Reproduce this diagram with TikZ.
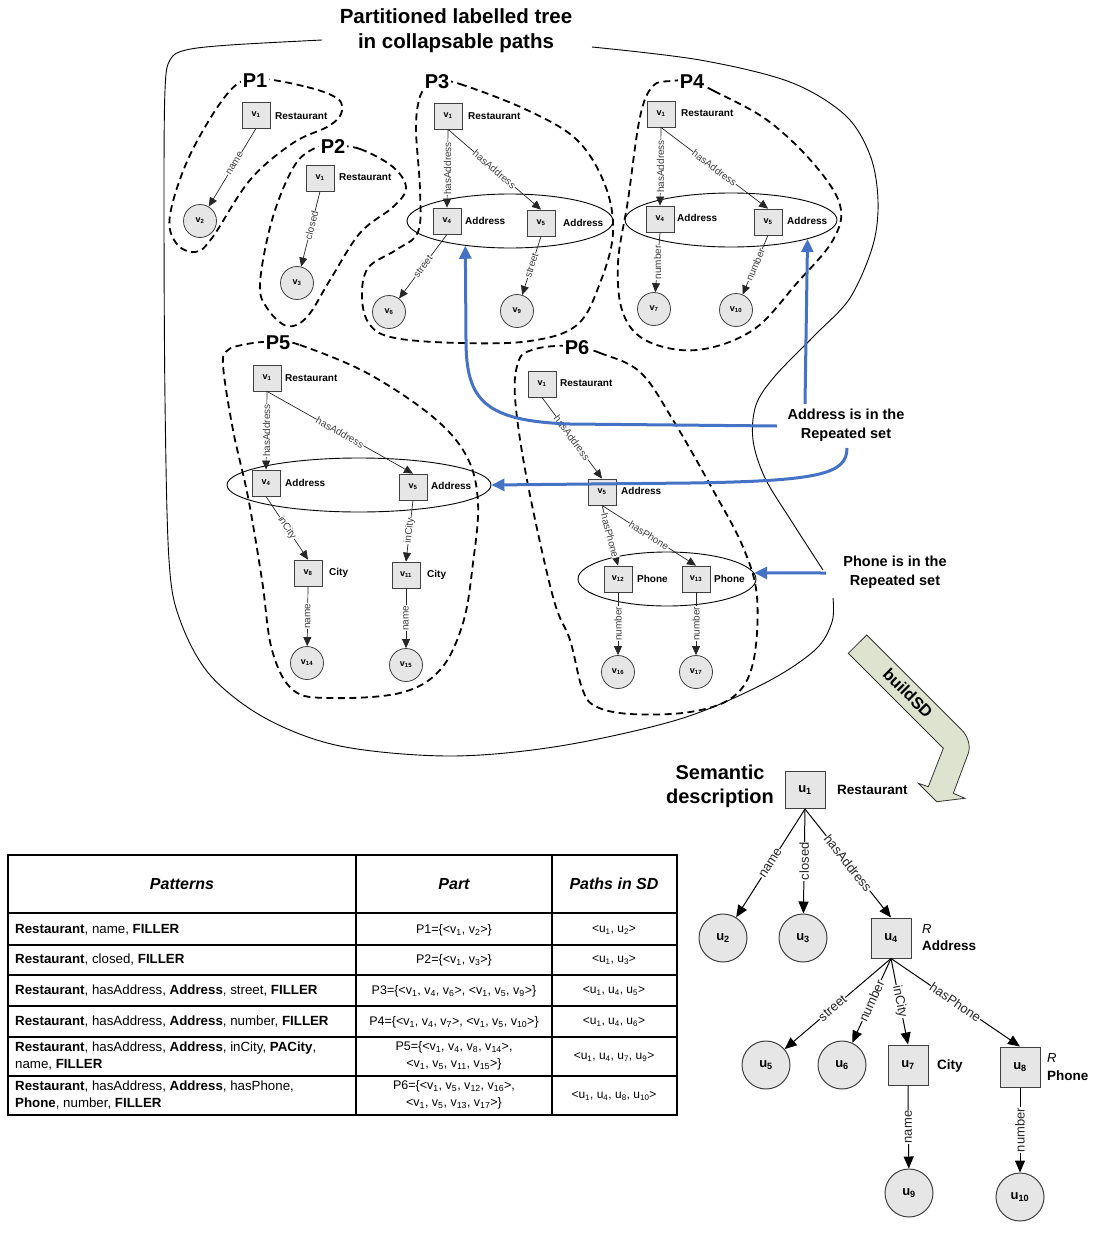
\documentclass[tikz,border=0pt]{standalone}
\usepackage{fontspec}
\setmainfont{Liberation Sans}
\usetikzlibrary{arrows.meta,shapes.geometric}
\newcommand{\vsub}[1]{v\textsubscript{#1}}
\newcommand{\usub}[1]{u\textsubscript{#1}}
\newcommand{\fsz}[2]{\fontsize{#1}{#2}\selectfont}
\definecolor{nodefill}{RGB}{230,230,230}
\definecolor{repblue}{RGB}{68,114,196}
\definecolor{sdarrow}{RGB}{221,227,206}
\begin{document}
\begin{tikzpicture}[x=1pt,y=-1pt,
  vbox/.style={draw=black!75,fill=nodefill,line width=0.8pt,minimum width=28pt,minimum height=26pt,inner sep=0pt,font=\bfseries\fsz{9}{10}},
  vcirc/.style={circle,draw=black!75,fill=nodefill,line width=0.8pt,minimum size=33pt,inner sep=0pt,font=\bfseries\fsz{9}{10}},
  vlab/.style={anchor=west,inner sep=0pt,font=\bfseries\fsz{10}{12}},
  tedge/.style={draw=black!85,line width=0.7pt,-{Triangle[length=9pt,width=8pt]}},
  elab/.style={font=\fsz{10}{11},text=black!75,fill=white,inner sep=0.4pt,sloped},
  elabv/.style={font=\fsz{10}{11},text=black!75,fill=white,inner sep=0.4pt,rotate=90},
  partline/.style={draw=black,line width=1.8pt,dash pattern=on 7pt off 4.5pt},
  plab/.style={font=\bfseries\fsz{20}{24},fill=white,inner sep=2pt},
  ring/.style={ellipse,draw=black,line width=0.9pt,inner sep=0pt},
  outline/.style={draw=black,line width=0.9pt},
  reparrow/.style={draw=repblue,line width=3pt,-{Triangle[length=13pt,width=12pt]}},
  note/.style={font=\bfseries\fsz{14.5}{19},align=center},
  ubox/.style={draw=black!75,fill=nodefill,line width=1pt,minimum width=40pt,minimum height=37pt,inner sep=0pt,font=\bfseries\fsz{13}{15}},
  ucirc/.style={circle,draw=black!75,fill=nodefill,line width=1pt,minimum size=48pt,inner sep=0pt,font=\bfseries\fsz{13}{15}},
  ulab/.style={anchor=west,inner sep=0pt,font=\bfseries\fsz{13.5}{16}},
  sdedge/.style={draw=black,line width=1pt,-{Triangle[length=12pt,width=10pt]}},
  sdlab/.style={font=\fsz{13}{15},text=black!85,fill=white,inner sep=0.5pt,sloped},
  sdlabv/.style={font=\fsz{13}{15},text=black!85,fill=white,inner sep=0.5pt,rotate=90},
  tline/.style={draw=black,line width=1.6pt},
  thead/.style={font=\bfseries\itshape\fsz{16}{19}},
  tpat/.style={anchor=west,align=left,inner sep=0pt,font=\fsz{13.3}{17}},
  tpart/.style={align=center,inner sep=0pt,font=\fsz{12.5}{17}},
  tpath/.style={align=center,inner sep=0pt,font=\fsz{12}{14}}
]
\useasboundingbox (0,0) rectangle (1093,1245);

% ---------- title ----------
\node[font=\bfseries\fsz{20.5}{25},align=center] (title) at (456,31) {Partitioned labelled tree\\in collapsable paths};

% ---------- enclosing outline of the labelled tree ----------
\draw[outline] plot[smooth,tension=0.55] coordinates {(322,40) (230,45) (186,50) (170,60) (165,90) (164,200) (165,400) (169,560) (180,620) (210,675) (265,718) (340,746) (450,756) (560,746) (680,719) (765,683) (815,650) (832,622) (833,598)};
\draw[outline] plot[smooth,tension=0.55] coordinates {(592,47) (700,60) (790,82) (845,115) (870,155) (878,200) (873,245) (850,298) (815,335) (775,376) (756,405) (753,440) (765,478) (792,522) (823,570)};

% ---------- partitions (dashed) ----------
\draw[partline] plot[smooth cycle,tension=0.6] coordinates {(256,79) (307,87) (338,99) (341,114) (327,127) (293,143) (250,180) (212,238) (195,252) (176,243) (170,215) (190,155) (228,93)};
\draw[partline] plot[smooth cycle,tension=0.6] coordinates {(333,146) (360,149) (393,167) (406,188) (393,207) (360,233) (330,280) (307,317) (287,326) (267,308) (260,283) (272,220) (293,168) (313,149)};
\draw[partline] plot[smooth cycle,tension=0.6] coordinates {(437,81) (460,84) (527,110) (577,140) (605,185) (613,233) (600,283) (577,325) (530,341) (460,343) (395,338) (370,325) (362,298) (368,268) (396,250) (418,232) (420,190) (416,130) (419,100) (426,87)};
\draw[partline] plot[smooth cycle,tension=0.6] coordinates {(692,81) (714,91) (767,120) (813,163) (840,205) (833,240) (797,283) (753,330) (697,350) (647,341) (623,313) (618,263) (628,200) (640,117) (653,86) (672,81)};
\draw[partline] plot[smooth cycle,tension=0.6] coordinates {(279,342) (300,345) (367,373) (433,417) (467,457) (478,503) (473,563) (463,623) (440,670) (400,693) (330,698) (293,690) (272,650) (262,580) (248,497) (233,430) (223,365) (228,350) (242,345) (262,342)};
\draw[partline] plot[smooth cycle,tension=0.6] coordinates {(578,347) (600,353) (640,372) (673,420) (713,490) (743,547) (757,597) (753,663) (733,697) (690,712) (630,714) (595,706) (582,688) (570,640) (553,597) (527,480) (515,397) (519,360) (532,350) (555,346)};

% ---------- repeated sets ----------
\node[ring,minimum width=206pt,minimum height=54pt] (p3ring) at (510,221) {};
\node[ring,minimum width=212pt,minimum height=54pt] (p4ring) at (731,220) {};
\node[ring,minimum width=264pt,minimum height=54pt] (p5ring) at (359,485) {};
\node[ring,minimum width=178pt,minimum height=54pt] (p6ring) at (667,579) {};

% ---------- P1 ----------
\node[vbox] (p1a) at (256,115) {\vsub{1}};
\node[vlab] (p1al) at (275,116) {Restaurant};
\node[vcirc] (p1b) at (200,221) {\vsub{2}};
\draw[tedge] (p1a.south) -- node[elab,pos=0.45]{name} (p1b);

% ---------- P2 ----------
\node[vbox] (p2a) at (320,178) {\vsub{1}};
\node[vlab] (p2al) at (339,177) {Restaurant};
\node[vcirc] (p2b) at (297,283) {\vsub{3}};
\draw[tedge] (p2a.south) -- node[elab,pos=0.45]{closed} (p2b);

% ---------- P3 ----------
\node[vbox] (p3a) at (448,116) {\vsub{1}};
\node[vlab] (p3al) at (468,116) {Restaurant};
\node[vbox] (p3d) at (447,221) {\vsub{4}};
\node[vlab] (p3dl) at (465,221) {Address};
\node[vbox] (p3e) at (541,223) {\vsub{5}};
\node[vlab] (p3el) at (563,223) {Address};
\node[vcirc] (p3f) at (389,312) {\vsub{6}};
\node[vcirc] (p3i) at (517,311) {\vsub{9}};
\draw[tedge] (p3a.south) -- node[elabv]{hasAddress} (p3d.north);
\draw[tedge] (p3a.south) -- node[elab]{hasAddress} (p3e.north);
\draw[tedge] (p3d.south) -- node[elab]{street} (p3f);
\draw[tedge] (p3e.south) -- node[elab]{street} (p3i);

% ---------- P4 ----------
\node[vbox] (p4a) at (661,114) {\vsub{1}};
\node[vlab] (p4al) at (681,113) {Restaurant};
\node[vbox] (p4d) at (660,219) {\vsub{4}};
\node[vlab] (p4dl) at (677,218) {Address};
\node[vbox] (p4e) at (768,222) {\vsub{5}};
\node[vlab] (p4el) at (787,221) {Address};
\node[vcirc] (p4g) at (654,309) {\vsub{7}};
\node[vcirc] (p4j) at (736,310) {\vsub{10}};
\draw[tedge] (p4a.south) -- node[elabv]{hasAddress} (p4d.north);
\draw[tedge] (p4a.south) -- node[elab]{hasAddress} (p4e.north);
\draw[tedge] (p4d.south) -- node[elabv]{number} (p4g);
\draw[tedge] (p4e.south) -- node[elab]{number} (p4j);

% ---------- P5 ----------
\node[vbox] (p5a) at (267,378) {\vsub{1}};
\node[vlab] (p5al) at (285,378) {Restaurant};
\node[vbox] (p5d) at (266,483) {\vsub{4}};
\node[vlab] (p5dl) at (285,483) {Address};
\node[vbox] (p5e) at (413,487) {\vsub{5}};
\node[vlab] (p5el) at (431,486) {Address};
\node[vbox] (p5h) at (308,573) {\vsub{8}};
\node[vlab] (p5hl) at (329,573) {City};
\node[vbox] (p5k) at (406,575) {\vsub{11}};
\node[vlab] (p5kl) at (427,575) {City};
\node[vcirc] (p5n) at (307,663) {\vsub{14}};
\node[vcirc] (p5o) at (406,665) {\vsub{15}};
\draw[tedge] (p5a.south) -- node[elabv]{hasAddress} (p5d.north);
\draw[tedge] (p5a.south) -- node[elab]{hasAddress} (p5e.north);
\draw[tedge] (p5d.south) -- node[elab]{inCity} (p5h.north);
\draw[tedge] (p5e.south) -- node[elab]{inCity} (p5k.north);
\draw[tedge] (p5h.south) -- node[elabv]{name} (p5n);
\draw[tedge] (p5k.south) -- node[elabv]{name} (p5o);

% ---------- P6 ----------
\node[vbox] (p6a) at (542,384) {\vsub{1}};
\node[vlab] (p6al) at (560,383) {Restaurant};
\node[vbox] (p6e) at (602,492) {\vsub{5}};
\node[vlab] (p6el) at (621,491) {Address};
\node[vbox] (p6l) at (618,579) {\vsub{12}};
\node[vlab] (p6ll) at (637,579) {Phone};
\node[vbox] (p6m) at (696,579) {\vsub{13}};
\node[vlab] (p6ml) at (714,579) {Phone};
\node[vcirc] (p6p) at (618,672) {\vsub{16}};
\node[vcirc] (p6q) at (696,672) {\vsub{17}};
\draw[tedge] (p6a.south) -- node[elab]{hasAddress} (p6e.north);
\draw[tedge] (p6e.south) -- node[elab]{hasPhone} (p6l.north);
\draw[tedge] (p6e.south) -- node[elab]{hasPhone} (p6m.north);
\draw[tedge] (p6l.south) -- node[elabv]{number} (p6p);
\draw[tedge] (p6m.south) -- node[elabv]{number} (p6q);

% ---------- partition names ----------
\node[plab] (lp1) at (255,81) {P1};
\node[plab] (lp2) at (333,147) {P2};
\node[plab] (lp3) at (437,82) {P3};
\node[plab] (lp4) at (692,82) {P4};
\node[plab] (lp5) at (278,343) {P5};
\node[plab] (lp6) at (577,348) {P6};

% ---------- repeated-set notes ----------
\node[note] (addrnote) at (846,425) {Address is in the\\Repeated set};
\node[note] (phonenote) at (895,572) {Phone is in the\\Repeated set};
\coordinate (a1s) at (777,426);
\coordinate (a2s) at (805,404);
\coordinate (a3s) at (847,448);
\coordinate (a4s) at (826,573);
\draw[reparrow] (a1s) -- (570,424) .. controls (484,421) and (466,400) .. (466,340) -- (p3ring.-151);
\draw[reparrow] (a2s) -- (p4ring.-14.6);
\draw[reparrow] (a3s) .. controls (847,474) and (820,481) .. (690,483) -- (p5ring.east);
\draw[reparrow] (a4s) -- (p6ring.4);

% ---------- buildSD arrow ----------
\draw[fill=sdarrow,draw=black!80,line width=0.8pt] (848.3,653.3) -- (866.7,635) -- (961.7,730) .. controls (967.5,735.7) and (971,745.8) .. (968.3,753.3) -- (953.3,793.3) -- (965,798.3) -- (936.7,801.7) -- (918.3,783.3) -- (928.3,786.7) -- (943.3,748.3) -- cycle;
\node[rotate=-45,font=\bfseries\fsz{16.5}{18}] (bsd) at (908,693) {buildSD};

% ---------- semantic description ----------
\node[font=\bfseries\fsz{20}{24},align=center] (semdesc) at (720,786) {Semantic\\description};
\node[ubox] (u1) at (805,790) {\usub{1}};
\node[ulab] (u1l) at (837,790) {Restaurant};
\node[ucirc] (u2) at (723,938) {\usub{2}};
\node[ucirc] (u3) at (803,938) {\usub{3}};
\node[ubox,minimum height=40pt] (u4) at (891,938) {\usub{4}};
\node[anchor=west,inner sep=0pt,font=\itshape\fsz{13}{15}] (u4r) at (922,929) {R};
\node[ulab] (u4l) at (922,946) {Address};
\node[ucirc] (u5) at (766,1065) {\usub{5}};
\node[ucirc] (u6) at (842,1065) {\usub{6}};
\node[ubox,minimum height=40pt] (u7) at (908,1065) {\usub{7}};
\node[ulab] (u7l) at (937,1066) {City};
\node[ubox,minimum height=40pt] (u8) at (1020,1067) {\usub{8}};
\node[anchor=west,inner sep=0pt,font=\itshape\fsz{13}{15}] (u8r) at (1047,1058) {R};
\node[ulab] (u8l) at (1047,1076) {Phone};
\node[ucirc] (u9) at (909,1193) {\usub{9}};
\node[ucirc] (u10) at (1020,1197) {\usub{10}};
\draw[sdedge] (u1.south) -- node[sdlab]{name} (u2);
\draw[sdedge] (u1.south) -- node[sdlabv]{closed} (u3);
\draw[sdedge] (u1.south) -- node[sdlab]{hasAddress} (u4.north);
\draw[sdedge] (u4.south) -- node[sdlab,pos=0.55]{street} (u5);
\draw[sdedge] (u4.south) -- node[sdlab]{number} (u6);
\draw[sdedge] (u4.south) -- node[sdlab]{inCity} (u7.north);
\draw[sdedge] (u4.south) -- node[sdlab]{hasPhone} (u8.north);
\draw[sdedge] (u7.south) -- node[sdlabv]{name} (u9);
\draw[sdedge] (u8.south) -- node[sdlabv]{number} (u10);

% ---------- table ----------
\draw[tline] (8,855) rectangle (677,1115);
\foreach \yy in {913,945,975,1006,1037,1076} \draw[tline] (8,\yy) -- (677,\yy);
\draw[tline] (356,855) -- (356,1115);
\draw[tline] (552,855) -- (552,1115);
\node[thead] (th1) at (182,884) {Patterns};
\node[thead] (th2) at (454,884) {Part};
\node[thead] (th3) at (614,884) {Paths in SD};
\node[tpat] (r1a) at (15,930) {\textbf{Restaurant}, name, \textbf{FILLER}};
\node[tpat] (r2a) at (15,960) {\textbf{Restaurant}, closed, \textbf{FILLER}};
\node[tpat] (r3a) at (15,991) {\textbf{Restaurant}, hasAddress, \textbf{Address}, street, \textbf{FILLER}};
\node[tpat] (r4a) at (15,1022) {\textbf{Restaurant}, hasAddress, \textbf{Address}, number, \textbf{FILLER}};
\node[tpat] (r5a) at (15,1056) {\textbf{Restaurant}, hasAddress, \textbf{Address}, inCity, \textbf{PACity},\\name, \textbf{FILLER}};
\node[tpat] (r6a) at (15,1095) {\textbf{Restaurant}, hasAddress, \textbf{Address}, hasPhone,\\\textbf{Phone}, number, \textbf{FILLER}};
\node[tpart] (r1b) at (454,930) {P1=\{<\vsub{1}, \vsub{2}>\}};
\node[tpart] (r2b) at (454,960) {P2=\{<\vsub{1}, \vsub{3}>\}};
\node[tpart] (r3b) at (454,991) {P3=\{<\vsub{1}, \vsub{4}, \vsub{6}>, <\vsub{1}, \vsub{5}, \vsub{9}>\}};
\node[tpart] (r4b) at (454,1022) {P4=\{<\vsub{1}, \vsub{4}, \vsub{7}>, <\vsub{1}, \vsub{5}, \vsub{10}>\}};
\node[tpart] (r5b) at (454,1056) {P5=\{<\vsub{1}, \vsub{4}, \vsub{8}, \vsub{14}>,\\<\vsub{1}, \vsub{5}, \vsub{11}, \vsub{15}>\}};
\node[tpart] (r6b) at (454,1095) {P6=\{<\vsub{1}, \vsub{5}, \vsub{12}, \vsub{16}>,\\<\vsub{1}, \vsub{5}, \vsub{13}, \vsub{17}>\}};
\node[tpath] (r1c) at (614,930) {<\usub{1}, \usub{2}>};
\node[tpath] (r2c) at (614,960) {<\usub{1}, \usub{3}>};
\node[tpath] (r3c) at (614,991) {<\usub{1}, \usub{4}, \usub{5}>};
\node[tpath] (r4c) at (614,1022) {<\usub{1}, \usub{4}, \usub{6}>};
\node[tpath] (r5c) at (614,1057) {<\usub{1}, \usub{4}, \usub{7}, \usub{9}>};
\node[tpath] (r6c) at (614,1096) {<\usub{1}, \usub{4}, \usub{8}, \usub{10}>};
\end{tikzpicture}
\end{document}
